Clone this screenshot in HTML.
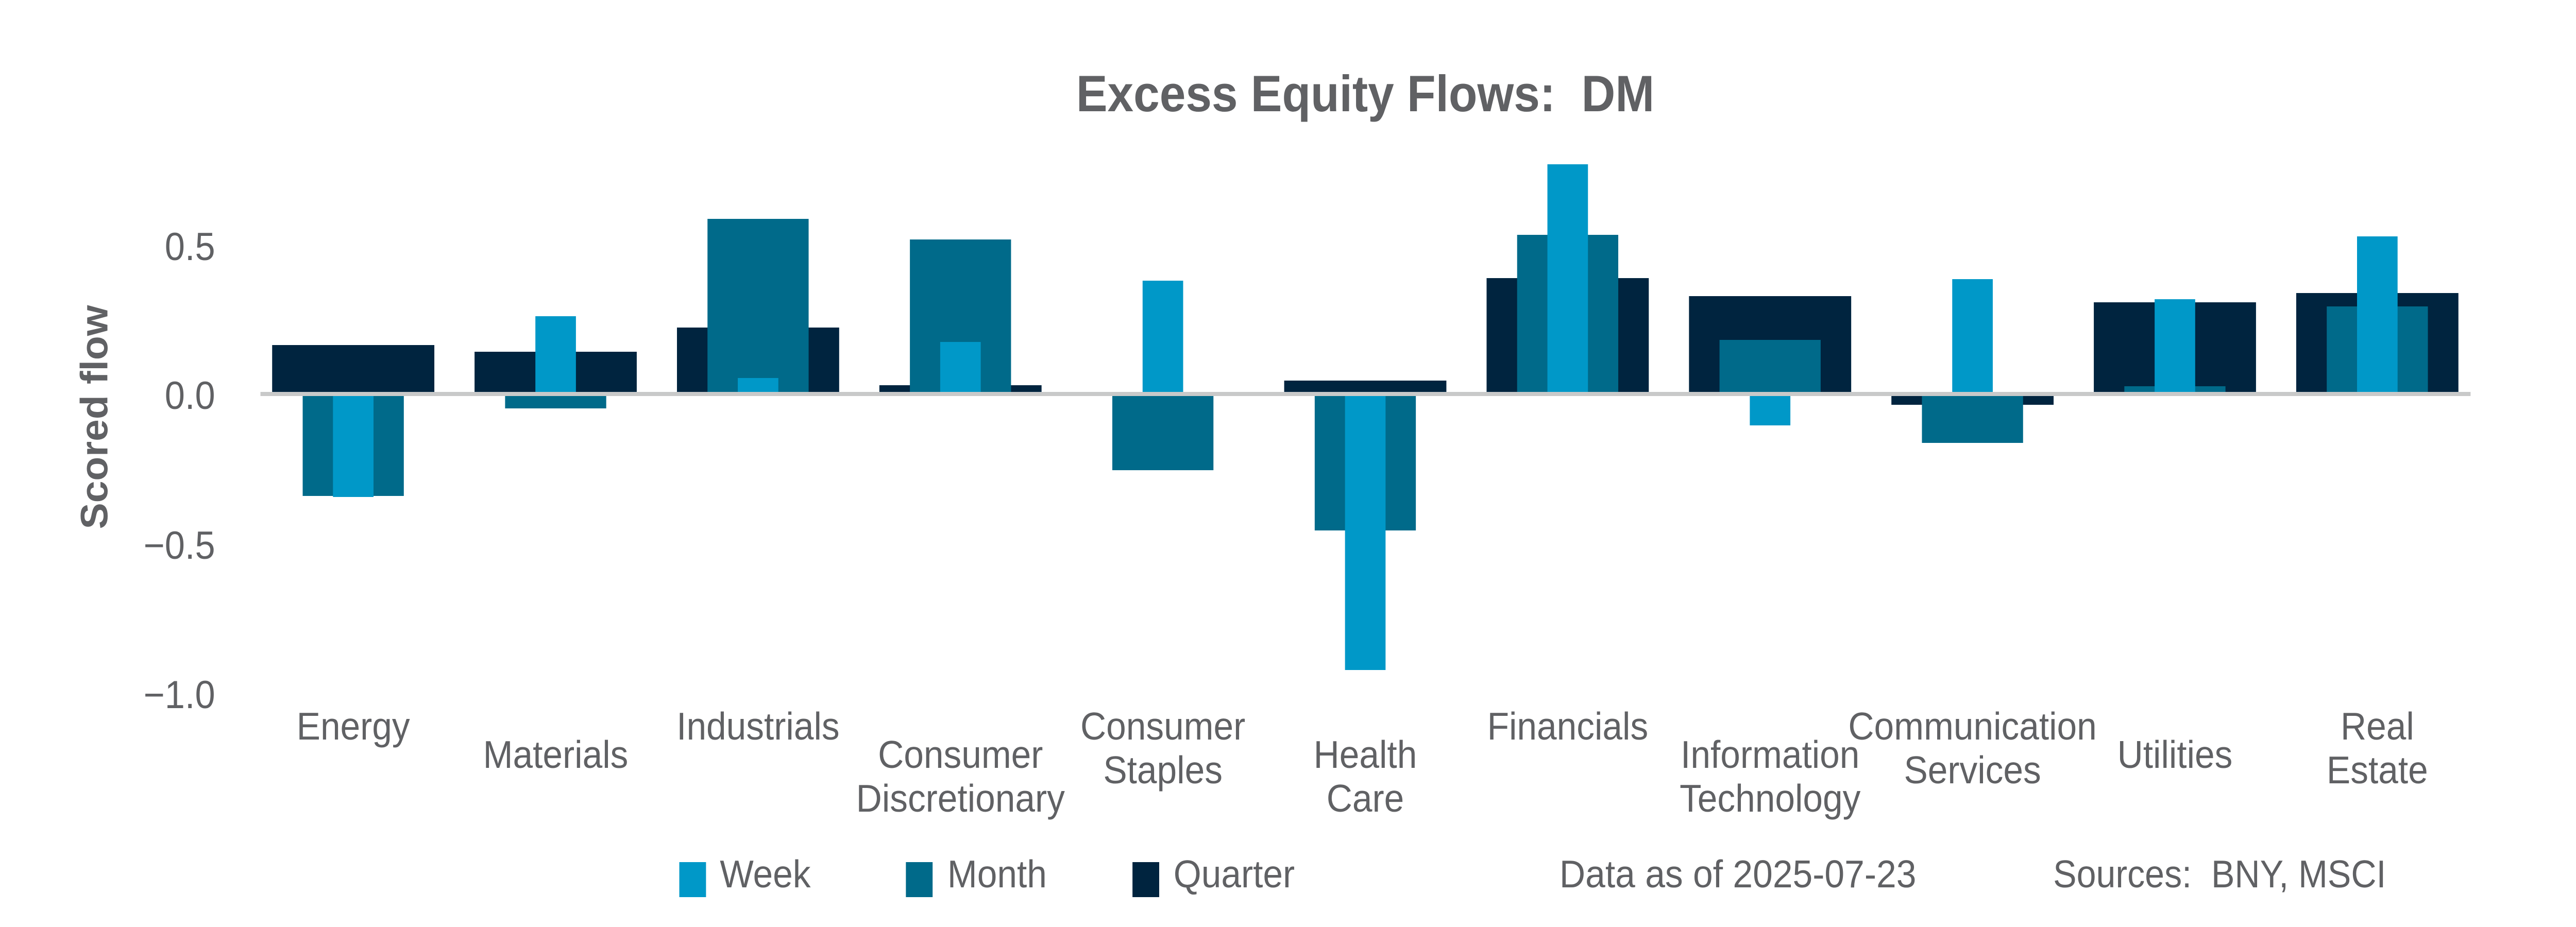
<!DOCTYPE html>
<html>
<head>
<meta charset="utf-8">
<style>
  html,body{margin:0;padding:0;background:#ffffff;width:100%;height:100%;overflow:hidden;}
  svg{display:block;width:100vw;height:100vh;}
  text{font-family:"Liberation Sans", sans-serif;fill:#606164;}
</style>
</head>
<body>
<svg viewBox="0 0 5400 1800" preserveAspectRatio="none" xmlns="http://www.w3.org/2000/svg">
  <rect x="0" y="0" width="5400" height="1800" fill="#ffffff"/>

  <!-- Title -->
  <text x="2256" y="216" font-size="99" font-weight="bold" textLength="1212" lengthAdjust="spacingAndGlyphs">Excess Equity Flows:&#160; DM</text>

  <!-- Y axis label -->
  <text transform="translate(225,810) rotate(-90)" text-anchor="middle" font-size="80" font-weight="bold" textLength="435" lengthAdjust="spacingAndGlyphs">Scored flow</text>

  <!-- Y tick labels -->
  <g font-size="76" text-anchor="end">
    <text x="451" y="505">0.5</text>
    <text x="451" y="794">0.0</text>
    <text x="451" y="1085">−0.5</text>
    <text x="451" y="1375">−1.0</text>
  </g>

  <!-- Energy c=740.5 -->
  <rect x="570.5" y="670" width="340" height="95" fill="#00243F"/>
  <rect x="634.5" y="765" width="212" height="198" fill="#006A8A"/>
  <rect x="698" y="765" width="85" height="200" fill="#0098C8"/>

  <!-- Materials c=1164.8 -->
  <rect x="994.8" y="683" width="340" height="82" fill="#00243F"/>
  <rect x="1058.8" y="765" width="212" height="28" fill="#006A8A"/>
  <rect x="1122.3" y="614" width="85" height="151" fill="#0098C8"/>

  <!-- Industrials c=1589.1 -->
  <rect x="1419.1" y="636" width="340" height="129" fill="#00243F"/>
  <rect x="1483.1" y="425" width="212" height="340" fill="#006A8A"/>
  <rect x="1546.6" y="734" width="85" height="31" fill="#0098C8"/>

  <!-- Consumer Discretionary c=2013.4 -->
  <rect x="1843.4" y="748" width="340" height="17" fill="#00243F"/>
  <rect x="1907.4" y="465" width="212" height="300" fill="#006A8A"/>
  <rect x="1970.9" y="664" width="85" height="101" fill="#0098C8"/>

  <!-- Consumer Staples c=2437.7 -->
  <rect x="2331.7" y="765" width="212" height="148" fill="#006A8A"/>
  <rect x="2395.2" y="545" width="85" height="220" fill="#0098C8"/>

  <!-- Health Care c=2862 -->
  <rect x="2692" y="739" width="340" height="26" fill="#00243F"/>
  <rect x="2756" y="765" width="212" height="265" fill="#006A8A"/>
  <rect x="2819.5" y="765" width="85" height="536" fill="#0098C8"/>

  <!-- Financials c=3286.3 -->
  <rect x="3116.3" y="540" width="340" height="225" fill="#00243F"/>
  <rect x="3180.3" y="456" width="212" height="309" fill="#006A8A"/>
  <rect x="3243.8" y="319" width="85" height="446" fill="#0098C8"/>

  <!-- Information Technology c=3710.6 -->
  <rect x="3540.6" y="575" width="340" height="190" fill="#00243F"/>
  <rect x="3604.6" y="660" width="212" height="105" fill="#006A8A"/>
  <rect x="3668.1" y="765" width="85" height="61" fill="#0098C8"/>

  <!-- Communication Services c=4134.9 -->
  <rect x="3964.9" y="765" width="340" height="21" fill="#00243F"/>
  <rect x="4028.9" y="765" width="212" height="95" fill="#006A8A"/>
  <rect x="4092.4" y="542" width="85" height="223" fill="#0098C8"/>

  <!-- Utilities c=4559.2 -->
  <rect x="4389.2" y="587" width="340" height="178" fill="#00243F"/>
  <rect x="4453.2" y="750" width="212" height="15" fill="#006A8A"/>
  <rect x="4516.7" y="581" width="85" height="184" fill="#0098C8"/>

  <!-- Real Estate c=4983.5 -->
  <rect x="4813.5" y="569" width="340" height="196" fill="#00243F"/>
  <rect x="4877.5" y="595" width="212" height="170" fill="#006A8A"/>
  <rect x="4941" y="459" width="85" height="306" fill="#0098C8"/>

  <!-- Zero line -->
  <rect x="546" y="761" width="4633" height="8" fill="#C8C9C9"/>

  <!-- Category labels -->
  <g font-size="75" text-anchor="middle">
    <text x="740.5" y="1436">Energy</text>
    <text x="1164.8" y="1491">Materials</text>
    <text x="1589.1" y="1436">Industrials</text>
    <text x="2013.4" y="1491">Consumer</text>
    <text x="2013.4" y="1576">Discretionary</text>
    <text x="2437.7" y="1436">Consumer</text>
    <text x="2437.7" y="1521">Staples</text>
    <text x="2862" y="1491">Health</text>
    <text x="2862" y="1576">Care</text>
    <text x="3286.3" y="1436">Financials</text>
    <text x="3710.6" y="1491">Information</text>
    <text x="3710.6" y="1576">Technology</text>
    <text x="4134.9" y="1436">Communication</text>
    <text x="4134.9" y="1521">Services</text>
    <text x="4559.2" y="1491">Utilities</text>
    <text x="4983.5" y="1436">Real</text>
    <text x="4983.5" y="1521">Estate</text>
  </g>

  <!-- Legend -->
  <rect x="1424" y="1674" width="56" height="68" fill="#0098C8"/>
  <text x="1509" y="1723" font-size="75">Week</text>
  <rect x="1899" y="1674" width="56" height="68" fill="#006A8A"/>
  <text x="1986" y="1723" font-size="75">Month</text>
  <rect x="2374" y="1674" width="56" height="68" fill="#00243F"/>
  <text x="2460" y="1723" font-size="75">Quarter</text>

  <text x="3269" y="1723" font-size="75" textLength="748" lengthAdjust="spacingAndGlyphs">Data as of 2025-07-23</text>
  <text x="4304" y="1723" font-size="75" textLength="698" lengthAdjust="spacingAndGlyphs">Sources:&#160; BNY, MSCI</text>
</svg>
</body>
</html>
